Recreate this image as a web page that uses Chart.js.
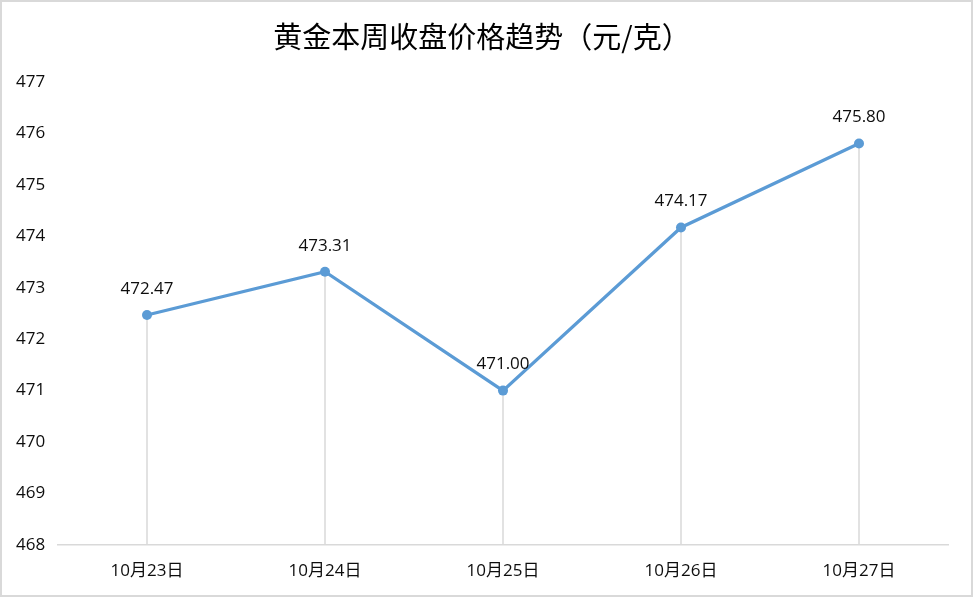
<!DOCTYPE html>
<html>
<head>
<meta charset="utf-8">
<script src="https://cdn.jsdelivr.net/npm/chart.js@4/dist/chart.umd.min.js"></script>
<style>
  html, body { margin: 0; padding: 0; background: #fff; }
  #wrap { width: 973px; height: 597px; position: relative; }
</style>
</head>
<body>
<div id="wrap"><canvas id="myChart"></canvas></div>
<script>
const titleText = '黄金本周收盘价格趋势（元/克）';
const dayLabels = ['10月23日', '10月24日', '10月25日', '10月26日', '10月27日'];
const closePrices = [472.47, 473.31, 471.00, 474.17, 475.80];
const yMin = 468;
const yMax = 477;

const lineColor = '#5b9bd5';
const gridGray = '#d9d9d9';
const textColor = '#0d0d0d';
const numFont = "'Open Sans', 'Noto Sans CJK SC', sans-serif";

// white background + frame around the whole picture
const frame = {
    id: 'frame',
    beforeDraw(chart) {
        const ctx = chart.ctx;
        ctx.save();
        ctx.fillStyle = '#fff';
        ctx.fillRect(0, 0, chart.width, chart.height);
        ctx.strokeStyle = gridGray;
        ctx.lineWidth = 2;
        ctx.strokeRect(1, 1, chart.width - 2, chart.height - 2);
        ctx.restore();
    }
};

// vertical drop lines from each point down to the x axis
const dropLines = {
    id: 'dropLines',
    beforeDatasetsDraw(chart) {
        const ctx = chart.ctx;
        const y = chart.scales.y;
        const meta = chart.getDatasetMeta(0);
        ctx.save();
        ctx.strokeStyle = gridGray;
        ctx.lineWidth = 1.5;
        meta.data.forEach((pt) => {
            ctx.beginPath();
            ctx.moveTo(pt.x, pt.y);
            ctx.lineTo(pt.x, y.getPixelForValue(yMin));
            ctx.stroke();
        });
        ctx.restore();
    }
};

// value labels above the points
const valueLabels = {
    id: 'valueLabels',
    afterDatasetsDraw(chart) {
        const ctx = chart.ctx;
        const meta = chart.getDatasetMeta(0);
        ctx.save();
        ctx.font = '17px ' + numFont;
        ctx.fillStyle = textColor;
        ctx.textAlign = 'center';
        ctx.textBaseline = 'middle';
        meta.data.forEach((pt, i) => {
            ctx.fillText(closePrices[i].toFixed(2), pt.x, pt.y - 26);
        });
        ctx.restore();
    }
};

const ctx = document.getElementById('myChart').getContext('2d');
const myChart = new Chart(ctx, {
    type: 'line',
    data: {
        labels: dayLabels,
        datasets: [{
            data: closePrices,
            borderColor: lineColor,
            backgroundColor: lineColor,
            borderWidth: 3.2,
            pointRadius: 5,
            pointBorderWidth: 0,
            pointBackgroundColor: lineColor,
            tension: 0,
            fill: false
        }]
    },
    options: {
        responsive: true,
        maintainAspectRatio: false,
        animation: false,
        layout: {
            padding: { left: 16, right: 25, top: 0, bottom: 0 }
        },
        plugins: {
            legend: { display: false },
            tooltip: { enabled: false },
            title: {
                display: true,
                text: titleText,
                color: '#000',
                font: { family: "'Noto Sans CJK SC', sans-serif", size: 29, weight: 'normal' },
                padding: { top: 20, bottom: 27 }
            }
        },
        scales: {
            x: {
                offset: true,
                grid: { display: false },
                border: { display: true, color: gridGray, width: 1.5 },
                ticks: {
                    color: textColor,
                    font: { family: numFont, size: 17 },
                    padding: 8,
                    maxRotation: 0
                },
                afterFit(scale) { scale.height = 52; }
            },
            y: {
                min: yMin,
                max: yMax,
                grid: { display: false },
                border: { display: false },
                ticks: {
                    stepSize: 1,
                    color: textColor,
                    font: { family: numFont, size: 17 },
                    crossAlign: 'far',
                    padding: 0
                },
                afterFit(scale) { scale.width = 42; }
            }
        }
    },
    plugins: [frame, dropLines, valueLabels]
});
</script>
</body>
</html>
